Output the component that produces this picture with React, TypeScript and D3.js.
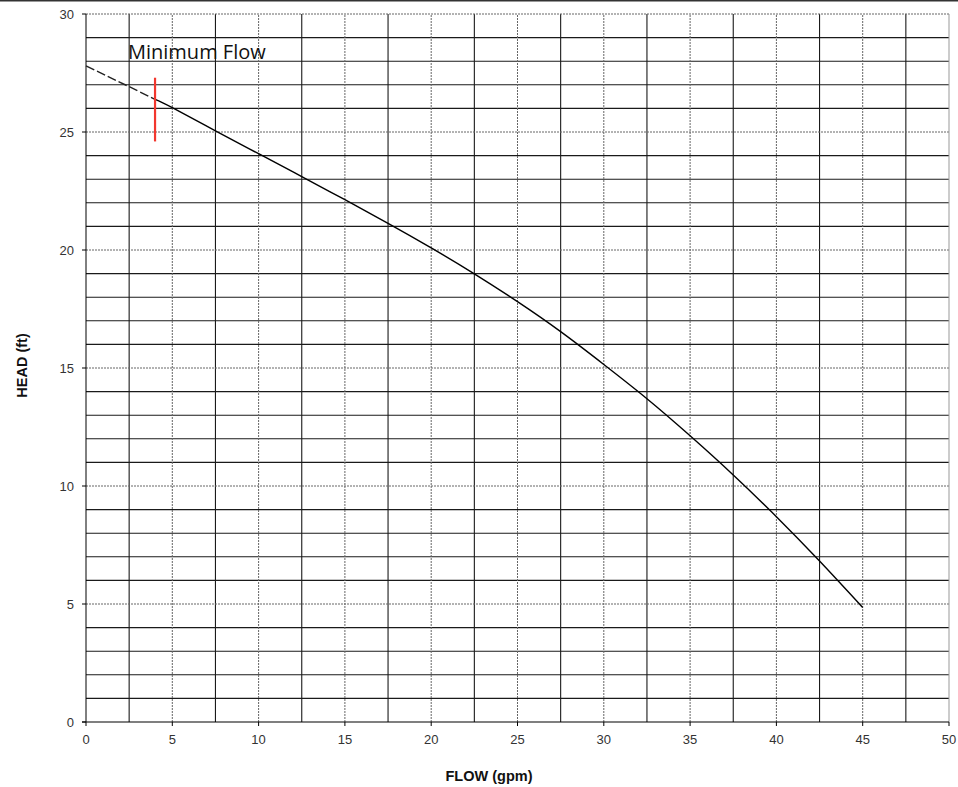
import React from 'react';
import * as d3 from 'd3';

// pump curve
const flowValues = [0, 2.5, 4, 5, 7.5, 10, 12.5, 15, 17.5, 20, 22.5, 25, 27.5, 30, 32.5, 35, 37.5, 40, 42.5, 45];
const headValues = [27.8, 26.92, 26.38, 26.03, 25.05, 24.08, 23.11, 22.13, 21.13, 20.09, 18.99, 17.81, 16.54, 15.15, 13.7, 12.13, 10.47, 8.7, 6.82, 4.85];

const minFlow = 4;
const minFlowHeads = [24.6, 27.3];
const minFlowLabel = 'Minimum Flow';

const xTicks = [0, 5, 10, 15, 20, 25, 30, 35, 40, 45, 50];
const yTicks = [0, 5, 10, 15, 20, 25, 30];
const xMinorGrid = [2.5, 7.5, 12.5, 17.5, 22.5, 27.5, 32.5, 37.5, 42.5, 47.5];
const yMinorGrid = d3.range(1, 30).filter(v => v % 5 !== 0);

const width = 958;
const height = 787;
const margin = { top: 14, right: 9, bottom: 65, left: 86 };

const App = () => {
    const x = d3.scaleLinear().domain([0, 50]).range([margin.left, width - margin.right]);
    const y = d3.scaleLinear().domain([0, 30]).range([height - margin.bottom, margin.top]);

    const points = flowValues.map((f, i) => ({ f, h: headValues[i] }));
    const line = d3.line<{ f: number; h: number }>()
        .x(d => x(d.f))
        .y(d => y(d.h))
        .curve(d3.curveNatural);

    const dashedPart = points.filter(p => p.f <= minFlow);
    const solidPart = points.filter(p => p.f >= minFlow);

    const axisFont = 'Arial, "Liberation Sans", sans-serif';

    return (
        <svg width={width} height={height} style={{ position: 'absolute', left: 0, top: 0, background: '#fff' }}>
            <line x1={0} x2={width} y1={0.75} y2={0.75} stroke="#333" strokeWidth={1.5} />

            {/* minor grid, solid */}
            {yMinorGrid.map(v => (
                <line key={'hy' + v} x1={x(0)} x2={x(50)} y1={y(v)} y2={y(v)} stroke="#1a1a1a" strokeWidth={1.1} />
            ))}
            {xMinorGrid.map(v => (
                <line key={'vx' + v} x1={x(v)} x2={x(v)} y1={y(0)} y2={y(30)} stroke="#1a1a1a" strokeWidth={1.1} />
            ))}

            {/* major grid, dotted */}
            {yTicks.filter(v => v > 0).map(v => (
                <line key={'my' + v} x1={x(0)} x2={x(50)} y1={y(v)} y2={y(v)} stroke="#666" strokeWidth={1} strokeDasharray="2,1" />
            ))}
            {xTicks.filter(v => v > 0 && v < 50).map(v => (
                <line key={'mx' + v} x1={x(v)} x2={x(v)} y1={y(0)} y2={y(30)} stroke="#666" strokeWidth={1} strokeDasharray="2,1" />
            ))}
            <line x1={x(50)} x2={x(50)} y1={y(0)} y2={y(30)} stroke="#999" strokeWidth={1} />

            {/* axes */}
            <line x1={x(0)} x2={x(0)} y1={y(0)} y2={y(30)} stroke="#000" strokeWidth={1} />
            <line x1={x(0) - 4} x2={x(50)} y1={y(0)} y2={y(0)} stroke="#000" strokeWidth={1.2} />
            {yTicks.map(v => (
                <g key={'yt' + v}>
                    <line x1={x(0) - 4} x2={x(0)} y1={y(v)} y2={y(v)} stroke="#000" strokeWidth={1} />
                    <text x={x(0) - 12} y={y(v)} dy="0.35em" textAnchor="end" fontSize={13} fontFamily={axisFont} fill="#333">{v}</text>
                </g>
            ))}
            {xTicks.map(v => (
                <g key={'xt' + v}>
                    <line x1={x(v)} x2={x(v)} y1={y(0)} y2={y(0) + 4} stroke="#000" strokeWidth={1} />
                    <text x={x(v)} y={y(0) + 22} textAnchor="middle" fontSize={13} fontFamily={axisFont} fill="#333">{v}</text>
                </g>
            ))}

            <text transform={`translate(26.5,365.5) rotate(-90)`} textAnchor="middle" fontSize={14.5} fontWeight="bold" fontFamily={axisFont} fill="#111">HEAD (ft)</text>
            <text x={489} y={781} textAnchor="middle" fontSize={14.5} fontWeight="bold" fontFamily={axisFont} fill="#111">FLOW (gpm)</text>

            {/* pump curve */}
            <path d={line(dashedPart) || ''} fill="none" stroke="#222" strokeWidth={1.4} strokeDasharray="9,3" />
            <path d={line(solidPart) || ''} fill="none" stroke="#000" strokeWidth={1.4} />

            {/* minimum flow marker */}
            <line x1={x(minFlow)} x2={x(minFlow)} y1={y(minFlowHeads[0])} y2={y(minFlowHeads[1])} stroke="#f2372e" strokeWidth={2.2} />
            <text x={128} y={58.5} fontSize={20} fontFamily='"Open Sans", sans-serif' fill="#111">{minFlowLabel}</text>
        </svg>
    );
};

export default App;
